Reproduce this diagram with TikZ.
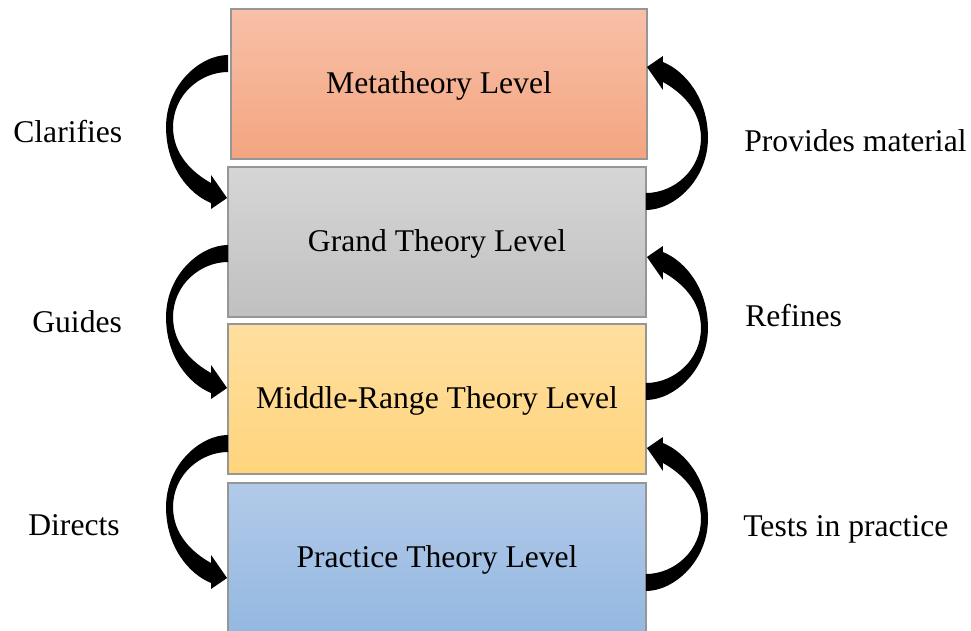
\documentclass[tikz,border=0pt]{standalone}
\usepackage{fontspec}
\setmainfont{Liberation Serif}
\usetikzlibrary{calc}

\definecolor{metaTop}{RGB}{247,192,168}
\definecolor{metaBot}{RGB}{244,165,128}
\definecolor{grandTop}{RGB}{214,214,214}
\definecolor{grandBot}{RGB}{192,192,192}
\definecolor{midTop}{RGB}{255,223,160}
\definecolor{midBot}{RGB}{255,212,124}
\definecolor{pracTop}{RGB}{178,202,233}
\definecolor{pracBot}{RGB}{148,184,225}
\definecolor{edge}{RGB}{150,150,150}

\tikzset{
  level/.style={draw=edge, line width=0.7pt, inner sep=0pt, outer sep=0pt,
    minimum width=8.36cm, minimum height=3cm,
    text height=13pt, text depth=1.7pt},
  lbl/.style={inner sep=0pt, anchor=base west},
  % tapered curved block arrow, drawn from the outer edge of its tail
  bend arrow/.pic={
    \fill[black] (0,0) .. controls (-28,0) and (-62,30) .. (-62,72)
      .. controls (-62,112) and (-39,139) .. (-17,148)
      -- (-17,154) -- (-1,143) -- (-17,120) -- (-17,128)
      .. controls (-35,118) and (-55,100) .. (-55,72)
      .. controls (-55,40) and (-28,17) .. (0,17) -- cycle;
  }
}

\begin{document}
\begin{tikzpicture}[x=0.02cm, y=-0.02cm, font=\fontsize{18}{21.6}\selectfont]
\useasboundingbox (0,0) rectangle (971,630);

% the four levels
\node[level, minimum width=8.32cm, top color=metaTop, bottom color=metaBot]
  (meta) at (439,84) {Metatheory Level};
\node[level, top color=grandTop, bottom color=grandBot]
  (grand) at (437,242) {Grand Theory Level};
\node[level, top color=midTop, bottom color=midBot]
  (middle) at (437,399) {Middle-Range Theory Level};
\node[level, top color=pracTop, bottom color=pracBot]
  (practice) at (437,558) {Practice Theory Level};

% tail points of the curved arrows
\coordinate (l1) at ($(meta.west)+(-3,-29)$);
\coordinate (l2) at ($(grand.west)+(0,3)$);
\coordinate (l3) at ($(middle.west)+(0,36)$);
\coordinate (r1) at ($(grand.east)+(0,-32)$);
\coordinate (r2) at ($(middle.east)+(0,1)$);
\coordinate (r3) at ($(practice.east)+(0,33)$);

% downward arrows on the left
\pic at (l1) {bend arrow};
\pic at (l2) {bend arrow};
\pic at (l3) {bend arrow};
% upward arrows on the right
\pic[rotate=180] at (r1) {bend arrow};
\pic[rotate=180] at (r2) {bend arrow};
\pic[rotate=180] at (r3) {bend arrow};

% relation labels
\node[lbl] (clar) at (13,142) {Clarifies};
\node[lbl] (guid) at (32,332) {Guides};
\node[lbl] (dirc) at (28,535) {Directs};
\node[lbl] (prov) at (744,151) {Provides material};
\node[lbl] (refn) at (745,326) {Refines};
\node[lbl] (test) at (743,536) {Tests in practice};
\end{tikzpicture}
\end{document}
